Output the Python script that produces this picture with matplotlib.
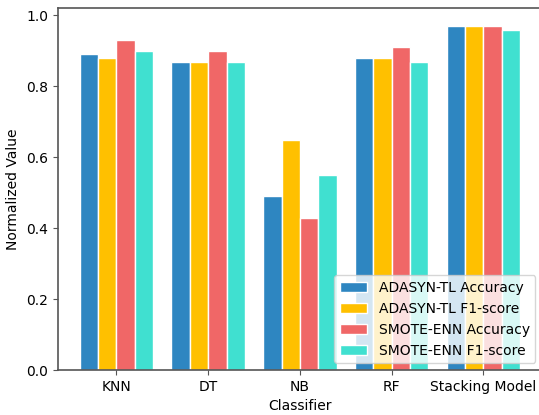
import numpy as np
import matplotlib.pyplot as plt

# scores per classifier for each resampling setup
classifiers = ['KNN', 'DT', 'NB', 'RF', 'Stacking Model']
adasyn_acc = [0.89, 0.87, 0.49, 0.88, 0.97]
adasyn_f1 = [0.88, 0.87, 0.65, 0.88, 0.97]
smote_acc = [0.93, 0.90, 0.43, 0.91, 0.97]
smote_f1 = [0.90, 0.87, 0.55, 0.87, 0.96]

series = [
    ('ADASYN-TL Accuracy', adasyn_acc, '#2E86C1'),
    ('ADASYN-TL F1-score', adasyn_f1, '#FFC000'),
    ('SMOTE-ENN Accuracy', smote_acc, '#F06767'),
    ('SMOTE-ENN F1-score', smote_f1, '#40E0D0'),
]

fig, ax = plt.subplots(figsize=(5.39, 4.15), dpi=100)
x = np.arange(len(classifiers))
w = 0.2
for i, (label, vals, color) in enumerate(series):
    ax.bar(x + (i - 1.5) * w, vals, w, label=label, color=color,
           edgecolor='white', linewidth=1)

ax.set_xticks(x)
ax.set_xticklabels(classifiers)
ax.set_ylim(0, 1.02)
ax.set_xlabel('Classifier')
ax.set_ylabel('Normalized Value')
for s in ax.spines.values():
    s.set_color('#555555')
    s.set_linewidth(1.2)
ax.tick_params(color='#555555')
ax.legend(loc='lower right', framealpha=0.8)

# axes runs slightly past the right edge of the canvas
fig.subplots_adjust(left=0.107, right=1.006, top=0.98, bottom=0.108)
fig.savefig('out.png')
